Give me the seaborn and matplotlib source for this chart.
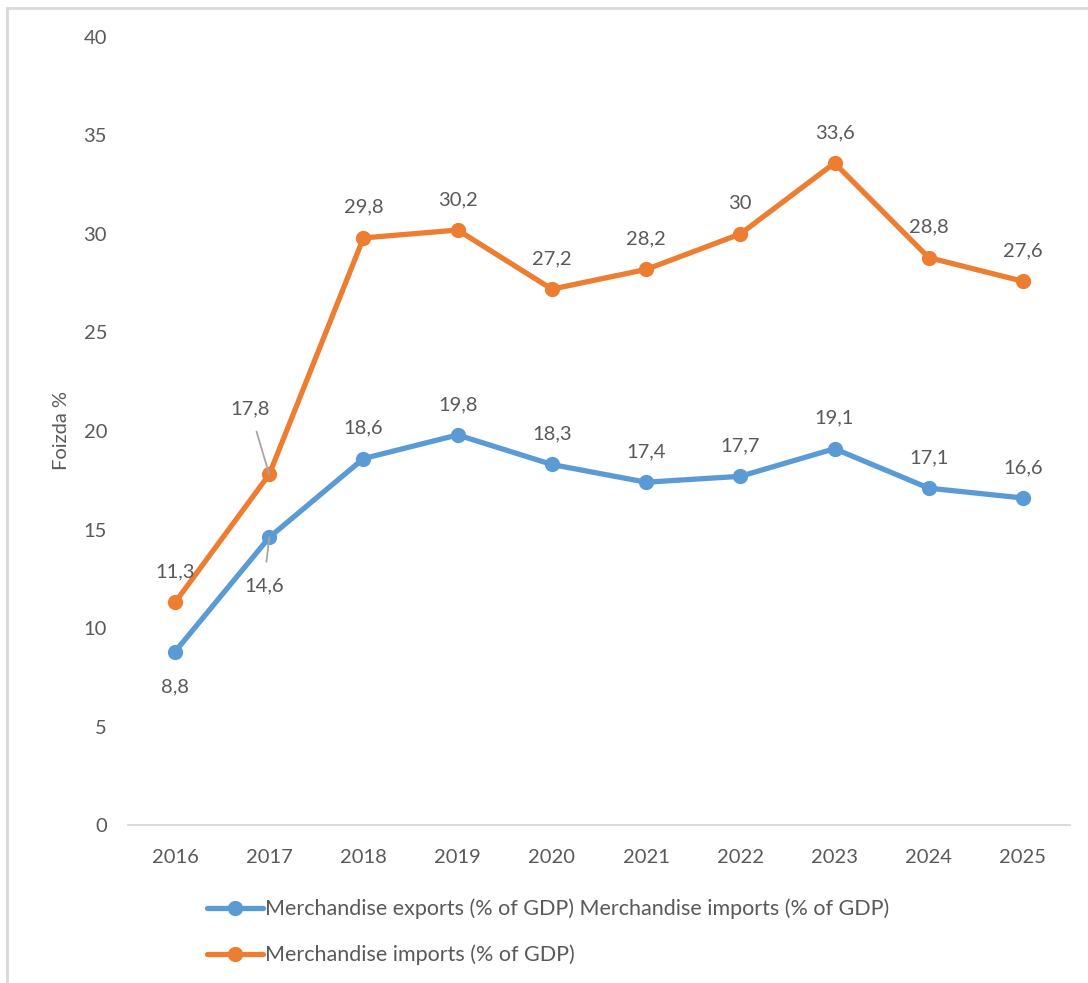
import matplotlib
matplotlib.use("Agg")
import matplotlib.pyplot as plt
import seaborn as sns
import pandas as pd
from matplotlib.lines import Line2D
from matplotlib.patches import Rectangle

years = ["2016", "2017", "2018", "2019", "2020", "2021", "2022", "2023", "2024", "2025"]
exports = [8.8, 14.6, 18.6, 19.8, 18.3, 17.4, 17.7, 19.1, 17.1, 16.6]
imports = [11.3, 17.8, 29.8, 30.2, 27.2, 28.2, 30.0, 33.6, 28.8, 27.6]
export_label = "Merchandise exports (% of GDP) Merchandise imports (% of GDP)"
import_label = "Merchandise imports (% of GDP)"
y_label = "Foizda %"
y_ticks = [0, 5, 10, 15, 20, 25, 30, 35, 40]

BLUE = "#5B9BD5"
ORANGE = "#ED7D31"
GRAY = "#595959"
FS = 14.5

sns.set_theme(style="white")
plt.rcParams["font.family"] = ["Lato", "DejaVu Sans"]

df = pd.DataFrame({
    "year": years * 2,
    "value": exports + imports,
    "series": [export_label] * len(years) + [import_label] * len(years),
})

fig = plt.figure(figsize=(10.88, 9.83), dpi=100)
ax = fig.add_axes([0.1176, 0.1607, 0.8659, 0.8017])

sns.lineplot(data=df, x="year", y="value", hue="series",
             palette={export_label: BLUE, import_label: ORANGE},
             marker="o", markersize=11, markeredgewidth=0, linewidth=3.8,
             legend=False, ax=ax, sort=False)

ax.set_xlim(-0.5, len(years) - 0.5)
ax.set_ylim(0, 40)
ax.set_yticks(y_ticks)
ax.set_yticklabels([str(t) for t in y_ticks])
for s in ["top", "right", "left"]:
    ax.spines[s].set_visible(False)
ax.spines["bottom"].set_color("#D9D9D9")
ax.spines["bottom"].set_linewidth(1.3)
ax.tick_params(axis="both", length=0, labelsize=FS, labelcolor=GRAY)
ax.tick_params(axis="y", pad=15)
ax.tick_params(axis="x", pad=17)
ax.set_xlabel("")
ax.set_ylabel(y_label, fontsize=FS, color=GRAY, labelpad=10)
ax.grid(False)

def fmt(v):
    s = f"{v:.1f}".replace(".", ",")
    if s.endswith(",0"):
        s = s[:-2]
    return s

# imports labels (above)
for i, v in enumerate(imports):
    if i == 1:
        ax.annotate(fmt(v), (i, v), xytext=(-14, 47), textcoords="offset points",
                    ha="center", va="center", fontsize=FS, color=GRAY,
                    arrowprops=dict(arrowstyle="-", color="#A6A6A6", lw=1.3,
                                    shrinkA=8, shrinkB=0))
    else:
        ax.annotate(fmt(v), (i, v), xytext=(0, 22), textcoords="offset points",
                    ha="center", va="center", fontsize=FS, color=GRAY)

# exports labels
for i, v in enumerate(exports):
    if i == 0:
        ax.annotate(fmt(v), (i, v), xytext=(0, -25), textcoords="offset points",
                    ha="center", va="center", fontsize=FS, color=GRAY)
    elif i == 1:
        ax.annotate(fmt(v), (i, v), xytext=(-4, -35), textcoords="offset points",
                    ha="center", va="center", fontsize=FS, color=GRAY,
                    arrowprops=dict(arrowstyle="-", color="#A6A6A6", lw=1.3,
                                    shrinkA=9, shrinkB=0))
    else:
        ax.annotate(fmt(v), (i, v), xytext=(0, 22), textcoords="offset points",
                    ha="center", va="center", fontsize=FS, color=GRAY)

handles = [
    Line2D([0], [0], color=BLUE, lw=3.8, marker="o", markersize=11, markeredgewidth=0),
    Line2D([0], [0], color=ORANGE, lw=3.8, marker="o", markersize=11, markeredgewidth=0),
]
fig.legend(handles, [export_label, import_label], loc="upper left",
           bbox_to_anchor=(0.19, 0.086), frameon=False, fontsize=15.5,
           labelcolor=GRAY, handlelength=2.6, handletextpad=0.12,
           labelspacing=1.2, borderaxespad=0, borderpad=0)

# outer chart border (left and top visible)
fig.patches.append(Rectangle((7 / 1088, -0.05), 1.2, 1 - 8 / 983 + 0.05,
                             transform=fig.transFigure, fill=False,
                             edgecolor="#D9D9D9", linewidth=2))

fig.savefig("out.png", dpi=100)
